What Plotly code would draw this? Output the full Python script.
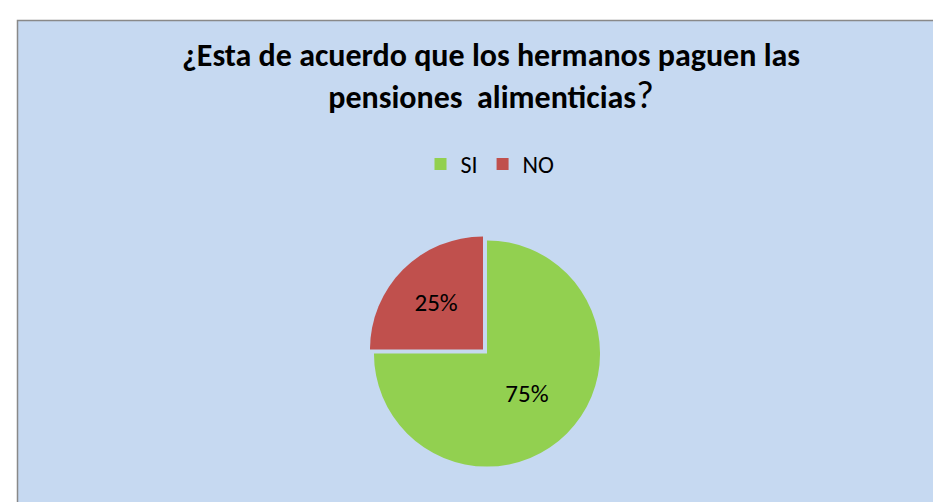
import plotly.graph_objects as go

categories = ["SI", "NO"]
values = [75, 25]
colors = ["#92D050", "#C0504D"]
title_lines = ["¿Esta de acuerdo que los hermanos paguen las", "pensiones\u00a0 alimenticias"]

W, H = 941, 502
FONT = "Carlito, Liberation Sans Narrow, sans-serif"

fig = go.Figure(go.Pie(
    labels=categories,
    values=values,
    marker=dict(colors=colors, line=dict(color="#C6D9F0", width=0)),
    sort=False,
    direction="clockwise",
    rotation=0,
    pull=[0, 0.05],
    textinfo="percent",
    textposition="inside",
    insidetextorientation="horizontal",
    textfont=dict(family=FONT, size=25, color="#000000"),
    domain=dict(x=[360.3 / W, 597.7 / W], y=[37.8 / H, 275.2 / H]),
    hoverinfo="skip",
))

fig.update_layout(
    width=W, height=H,
    margin=dict(l=0, r=0, t=0, b=0),
    paper_bgcolor="#FFFFFF",
    shapes=[dict(type="rect", xref="paper", yref="paper", x0=9.5 / W, x1=1.02, y0=-0.05, y1=(H - 12.5) / H,
                 fillcolor="#C6D9F1", line=dict(color="#898989", width=1.5), layer="below")],
    title=dict(
        text="<b>" + title_lines[0] + "<br>" + title_lines[1] + "</b><span style='font-size:38px'>?</span>",
        x=483 / W, xanchor="center", y=(H - 58) / H, yanchor="top",
        font=dict(family=FONT, size=32, color="#000000"),
    ),
    legend=dict(
        orientation="h", x=482 / W, xanchor="center", y=(H - 134) / H, yanchor="top",
        font=dict(family=FONT, size=24, color="#000000"),
        bgcolor="rgba(0,0,0,0)", itemwidth=30, traceorder="normal",
    ),
)

fig.write_html("out.html")
